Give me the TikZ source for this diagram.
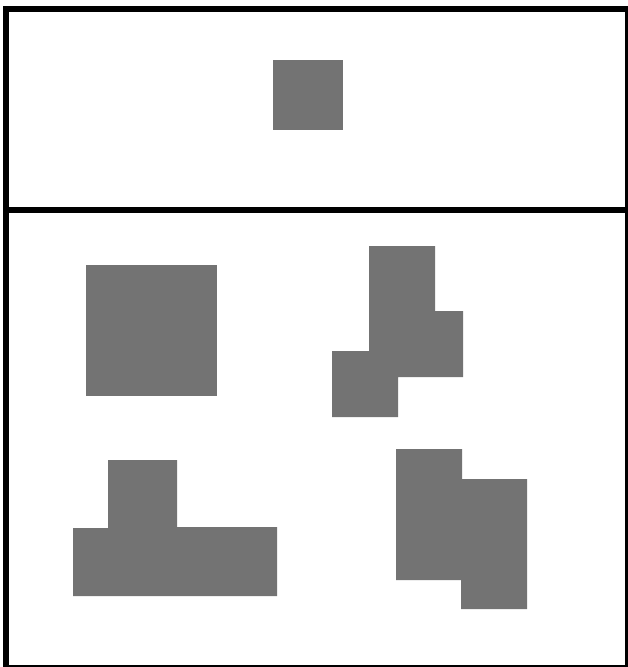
\documentclass[tikz,border=0pt]{standalone}
\usepackage{tikz}
\usetikzlibrary{calc}
\definecolor{blk-ink}{HTML}{000000}
\definecolor{blk-grey}{HTML}{737373}

\begin{document}
\begin{tikzpicture}[x=1pt, y=-1pt, line cap=butt, line join=miter,
    frame/.style={draw=blk-ink, line width=6pt},
    blok/.style={fill=blk-grey}]
  \clip (0,0) rectangle (628,667);
  % ramme
  \draw[frame] (6,9) rectangle (628,668);
  \draw[frame] (3,209.5) -- (631,209.5);
  % øverste felt
  \fill[blok] (273,60) rectangle (343,130);
  % nederste felt
  \fill[blok] (86,265) rectangle (217,396);
  \fill[blok] (369,246) -- (435,246) -- (435,311) -- (463,311) -- (463,377)
    -- (398,377) -- (398,417) -- (332,417) -- (332,351) -- (369,351) -- cycle;
  \fill[blok] (108,460) -- (177,460) -- (177,527) -- (277,527) -- (277,596)
    -- (73,596) -- (73,528) -- (108,528) -- cycle;
  \fill[blok] (396,449) -- (462,449) -- (462,479) -- (527,479) -- (527,609)
    -- (461,609) -- (461,580) -- (396,580) -- cycle;
\end{tikzpicture}
\end{document}
